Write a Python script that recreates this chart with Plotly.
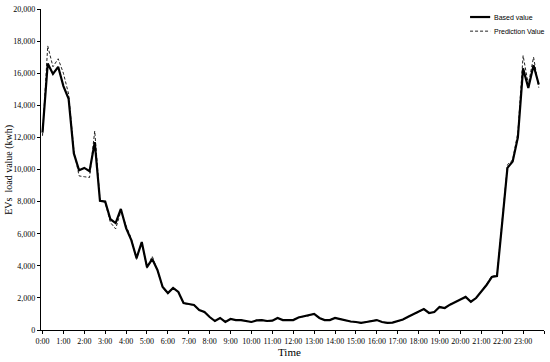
import plotly.graph_objects as go

# 15-minute intervals, 0:00 .. 23:45 (hours)
time_hours = [i * 0.25 for i in range(96)]

based_value = [
    12300, 16600, 15950, 16400, 15200, 14400, 11000, 9950, 10100, 9900, 11700, 8050,
    8000, 6900, 6660, 7540, 6350, 5600, 4480, 5480, 3920, 4420, 3740, 2680,
    2300, 2620, 2370, 1680, 1620, 1560, 1250, 1120, 810, 560, 750, 500,
    690, 620, 620, 560, 500, 600, 620, 560, 580, 750, 620, 620,
    620, 780, 850, 900, 1000, 750, 620, 620, 750, 680, 600, 530,
    500, 440, 500, 560, 620, 500, 440, 460, 560, 650, 830, 980,
    1100, 1300, 1060, 1120, 1430, 1370, 1580, 1720, 1900, 2060, 1760, 1990,
    2370, 2800, 3300, 3360, 6700, 10100, 10500, 12000, 16300, 15080, 16500, 15300,
]

prediction_value = [
    12100, 17700, 16400, 16900, 16000, 14700, 11200, 9600, 9550, 9500, 12400, 8100,
    7950, 6700, 6300, 7400, 6500, 5700, 4400, 5500, 3850, 4600, 3700, 2650,
    2250, 2650, 2400, 1650, 1600, 1550, 1230, 1100, 800, 540, 760, 480,
    700, 610, 630, 550, 490, 610, 620, 550, 590, 760, 610, 620,
    630, 790, 860, 890, 1020, 740, 610, 630, 760, 670, 590, 520,
    490, 430, 510, 550, 630, 490, 430, 470, 570, 640, 840, 990,
    1110, 1320, 1050, 1130, 1450, 1360, 1600, 1730, 1920, 2080, 1740, 2000,
    2400, 2850, 3350, 3400, 6800, 10300, 10600, 12300, 17100, 15300, 17000, 15100,
]

x_tick_vals = list(range(25))
x_tick_text = [f"{h}:00" for h in range(24)] + [""]
y_tick_vals = list(range(0, 20001, 2000))
y_tick_text = [f"{v:,}" for v in y_tick_vals]

serif = "Liberation Serif"

fig = go.Figure()
fig.add_trace(go.Scatter(
    x=time_hours, y=prediction_value, mode="lines", name="Prediction Value",
    line=dict(color="#222222", width=1, dash="3px,2px"), showlegend=False,
))
fig.add_trace(go.Scatter(
    x=time_hours, y=based_value, mode="lines", name="Based value",
    line=dict(color="black", width=2.2), showlegend=False,
))

fig.update_layout(
    width=550, height=362,
    margin=dict(l=41, r=6, t=9, b=32),
    paper_bgcolor="white", plot_bgcolor="white",
    font=dict(family=serif, color="black", size=8),
)
fig.update_xaxes(
    range=[-0.072, 24.0], tickvals=x_tick_vals, ticktext=x_tick_text,
    showgrid=False, zeroline=False, showline=True, linecolor="black", linewidth=1.3,
    ticks="outside", ticklen=3, tickcolor="black", tickwidth=1,
    tickfont=dict(family=serif, size=8, color="black"),
)
fig.update_yaxes(
    range=[0, 20000], tickvals=y_tick_vals, ticktext=y_tick_text,
    showgrid=False, zeroline=False, showline=True, linecolor="black", linewidth=1.3,
    ticks="outside", ticklen=3, tickcolor="black", tickwidth=1,
    tickfont=dict(family=serif, size=8, color="black"),
)

# axis titles
fig.add_annotation(text="EVs  load value (kwh)", xref="paper", yref="paper",
                   x=-0.065, y=0.5, xanchor="center", yanchor="middle",
                   textangle=-90, showarrow=False,
                   font=dict(family=serif, size=10, color="black"))
fig.add_annotation(text="Time", xref="paper", yref="paper",
                   x=0.495, y=-0.068, xanchor="center", yanchor="middle",
                   showarrow=False, font=dict(family=serif, size=11, color="black"))

# legend (drawn manually to match the compact reference legend)
fig.add_shape(type="line", xref="paper", yref="paper", x0=0.853, x1=0.893, y0=0.975, y1=0.975,
              line=dict(color="black", width=2.2))
fig.add_shape(type="line", xref="paper", yref="paper", x0=0.853, x1=0.893, y0=0.931, y1=0.931,
              line=dict(color="#222222", width=1, dash="3px,2px"))
fig.add_annotation(text="Based value", xref="paper", yref="paper", x=0.897, y=0.975,
                   xanchor="left", yanchor="middle", showarrow=False,
                   font=dict(family="Liberation Sans", size=7, color="black"))
fig.add_annotation(text="Prediction Value", xref="paper", yref="paper", x=0.897, y=0.931,
                   xanchor="left", yanchor="middle", showarrow=False,
                   font=dict(family="Liberation Sans", size=7, color="black"))

# remove the default 8px page margin so the 550x362 figure fills the window
fig.write_html("out.html", config={"displayModeBar": False},
               post_script="document.body.style.margin='0';")
